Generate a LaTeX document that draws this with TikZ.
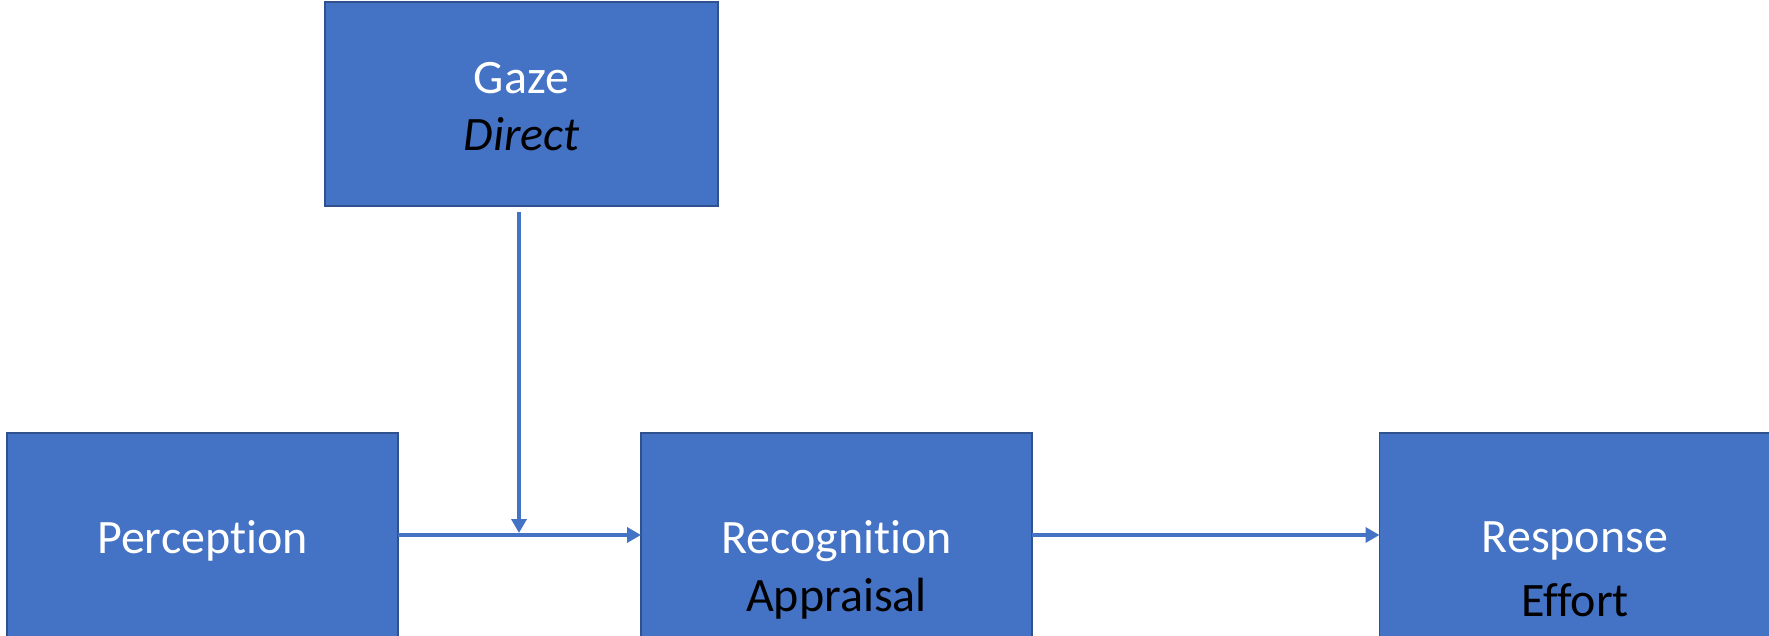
\documentclass[tikz,border=0pt]{standalone}
\usepackage{fontspec}
\setmainfont{Carlito}[Ligatures=NoCommon]
\usetikzlibrary{arrows.meta}
\definecolor{boxfill}{HTML}{4472C4}
\definecolor{boxline}{HTML}{2F528F}
% lower the ink of a line while keeping its measured size
\newcommand{\lowered}[2]{\raisebox{-#1}[\height][\depth]{#2}}
\begin{document}
\begin{tikzpicture}[x=0.5pt,y=-0.5pt,
  stagebox/.style={rectangle, draw=boxline, line width=0.9pt, fill=boxfill,
    minimum width=195.5pt, minimum height=102pt, inner sep=0pt, outer sep=0pt,
    text=white, font=\fontsize{24}{28.5}\selectfont, align=center},
  sublabel/.style={anchor=base, inner sep=0pt, text=black,
    font=\fontsize{24}{28.5}\selectfont},
  flow/.style={draw=boxfill, line width=2.1pt,
    -{Triangle[length=7pt,width=7.5pt]}}]
\useasboundingbox (0,0) rectangle (1769,636);
% boxes
\node[stagebox, minimum width=196.5pt] (gaze) at (521.5,104)
  {\lowered{1.5pt}{Gaze}\\\lowered{1.5pt}{\textcolor{black}{\itshape Direct}}};
\node[stagebox] (per) at (202.5,535) {\lowered{3pt}{Perception}};
\node[stagebox] (rec) at (836.5,535) {\lowered{3pt}{Recognition}};
\node[stagebox] (res) at (1575,535) {\lowered{3pt}{Response}};
% second lines
\node[sublabel] (app) at (836.5,611) {Appraisal};
\node[sublabel] (eff) at (1575,617) {Effort};
% connectors
\coordinate (gstart) at (519,212);
\coordinate (join) at (519,533);
\draw[flow] (per.east) -- (rec.west);
\draw[flow] (rec.east) -- (res.west);
\draw[flow] (gstart) -- (join);
\end{tikzpicture}
\end{document}
